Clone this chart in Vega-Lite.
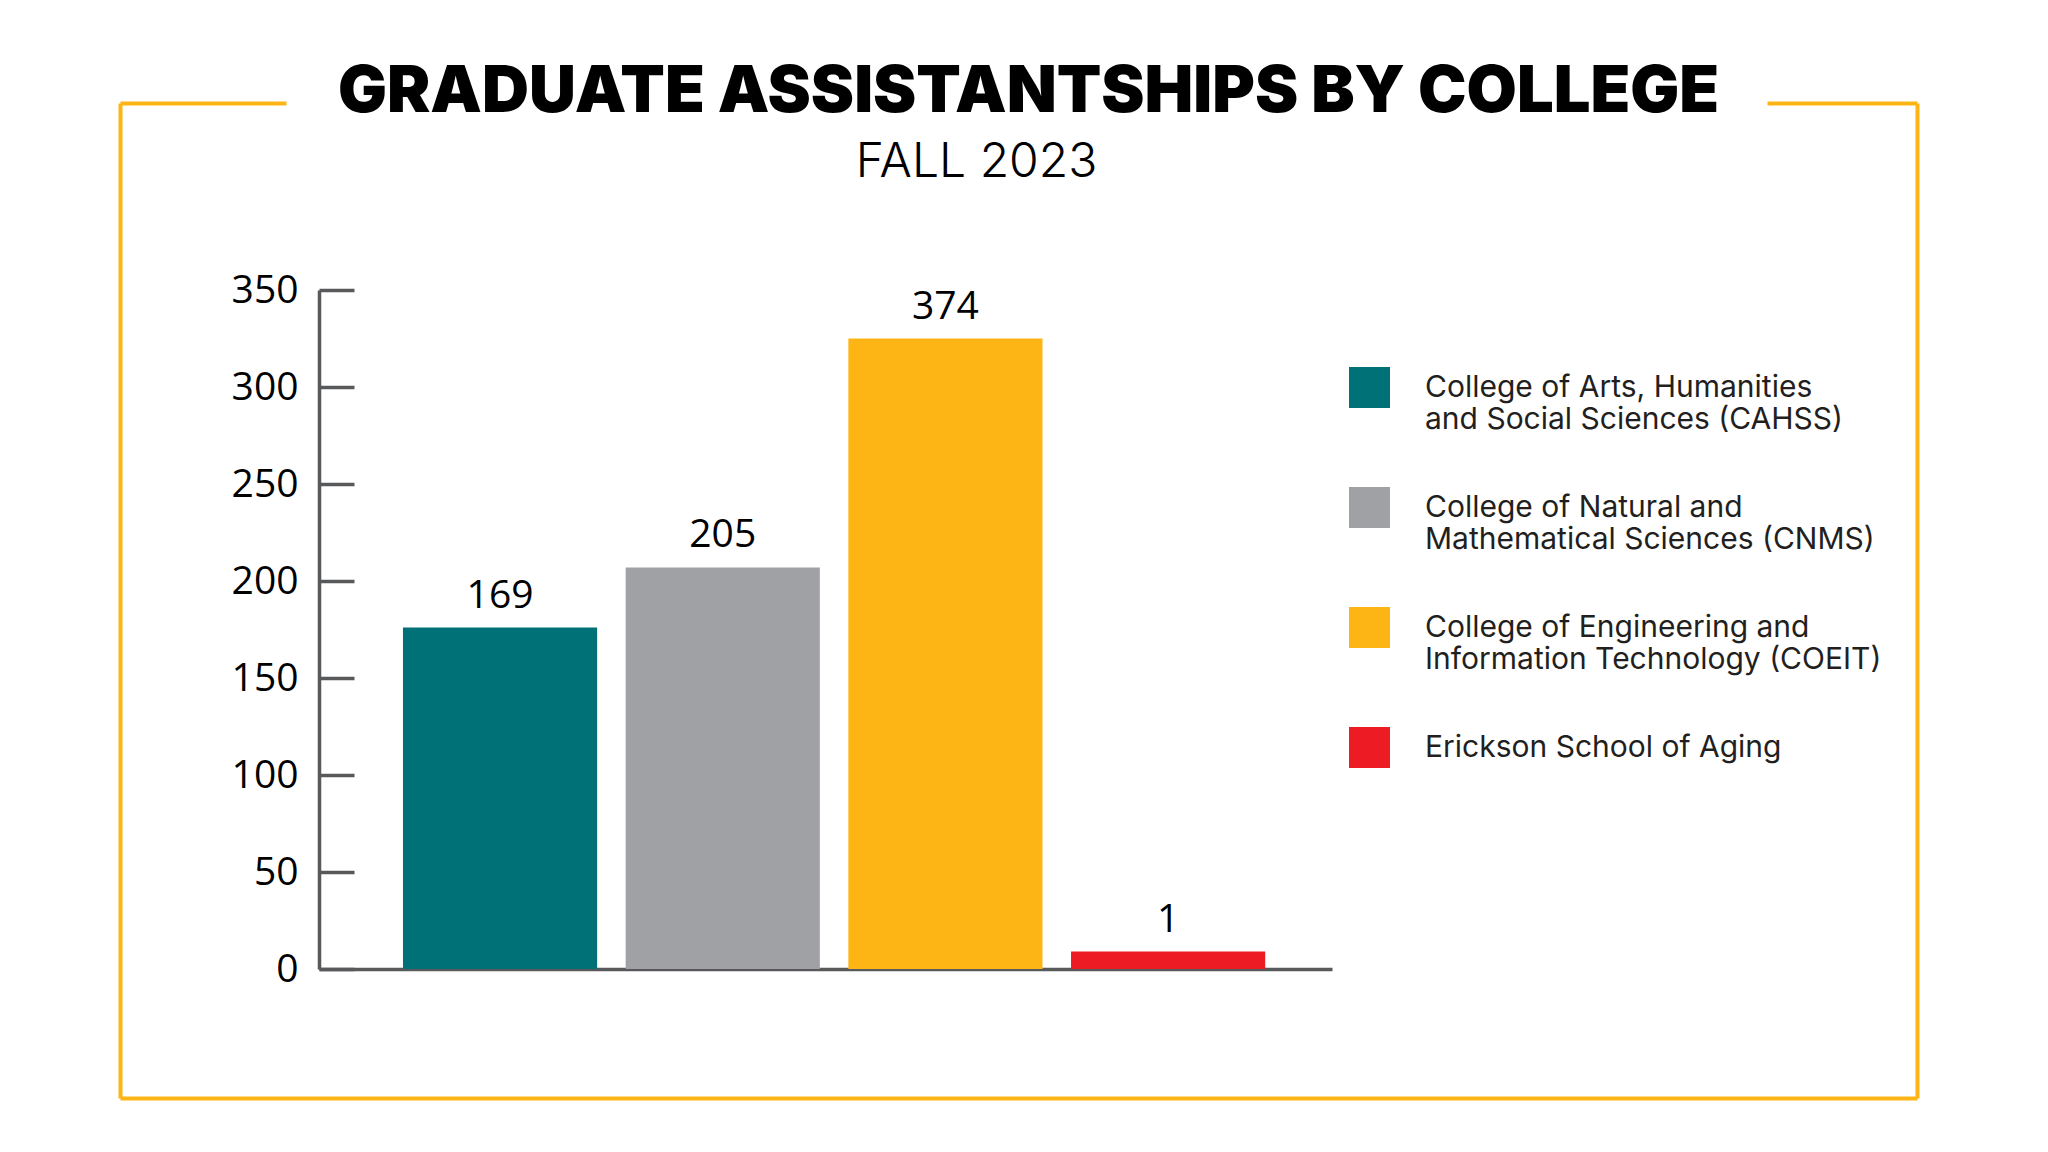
{
  "$schema": "https://vega.github.io/schema/vega-lite/v6.json",
  "width": 1797,
  "height": 995,
  "autosize": {"type": "none"},
  "padding": {"left": 120, "top": 103, "right": 131, "bottom": 54},
  "background": "white",
  "title": {
    "text": "GRADUATE ASSISTANTSHIPS BY COLLEGE",
    "font": "Inter",
    "fontWeight": 900,
    "fontSize": 65,
    "color": "#000000",
    "anchor": "middle",
    "frame": "group",
    "baseline": "alphabetic",
    "offset": -74,
    "dx": 10
  },
  "data": {
    "values": [
      {"college": "College of Arts, Humanities and Social Sciences (CAHSS)", "assistantships": 169, "bar_height": 176},
      {"college": "College of Natural and Mathematical Sciences (CNMS)", "assistantships": 205, "bar_height": 207},
      {"college": "College of Engineering and Information Technology (COEIT)", "assistantships": 374, "bar_height": 325},
      {"college": "Erickson School of Aging", "assistantships": 1, "bar_height": 9}
    ]
  },
  "layer": [
    {
      "encoding": {
        "x": {
          "field": "college",
          "type": "nominal",
          "sort": null,
          "scale": {"range": [199, 1212], "paddingInner": 0.128, "paddingOuter": 0.3385, "align": 0.557},
          "axis": {"orient": "bottom", "offset": -129, "labels": false, "ticks": false, "title": null, "grid": false, "domainColor": "#58595B", "domainWidth": 3.5}
        },
        "y": {
          "field": "bar_height",
          "type": "quantitative",
          "scale": {"domain": [0, 350], "range": [866, 187], "nice": false},
          "axis": {
            "orient": "left",
            "offset": -199,
            "values": [0, 50, 100, 150, 200, 250, 300, 350],
            "title": null,
            "grid": false,
            "domainColor": "#58595B",
            "domainWidth": 3.5,
            "tickColor": "#58595B",
            "tickWidth": 3.5,
            "tickSize": -35,
            "labelFont": "Open Sans",
            "labelFontSize": 39,
            "labelColor": "#000000",
            "labelPadding": 56
          }
        }
      },
      "layer": [
        {
          "mark": {"type": "bar"},
          "encoding": {
            "color": {
              "field": "college",
              "type": "nominal",
              "sort": null,
              "scale": {
                "domain": [
                  "College of Arts, Humanities and Social Sciences (CAHSS)",
                  "College of Natural and Mathematical Sciences (CNMS)",
                  "College of Engineering and Information Technology (COEIT)",
                  "Erickson School of Aging"
                ],
                "range": ["#007176", "#A0A1A4", "#FDB515", "#ED1C24"]
              },
              "legend": {
                "orient": "none",
                "legendX": 1229,
                "legendY": 264,
                "title": null,
                "padding": 0,
                "symbolType": "square",
                "symbolSize": 1681,
                "symbolStrokeWidth": 0,
                "symbolOpacity": 1,
                "labelFont": "Inter",
                "labelFontSize": 30,
                "labelColor": "#231F20",
                "labelLineHeight": 32,
                "labelOffset": 35,
                "labelLimit": 700,
                "rowPadding": 52,
                "gridAlign": "all",
                "labelExpr": "datum.label === 'College of Arts, Humanities and Social Sciences (CAHSS)' ? ['College of Arts, Humanities', 'and Social Sciences (CAHSS)'] : datum.label === 'College of Natural and Mathematical Sciences (CNMS)' ? ['College of Natural and', 'Mathematical Sciences (CNMS)'] : datum.label === 'College of Engineering and Information Technology (COEIT)' ? ['College of Engineering and', 'Information Technology (COEIT)'] : datum.label"
              }
            }
          }
        },
        {
          "mark": {"type": "text", "baseline": "alphabetic", "dy": -20, "font": "Open Sans", "fontSize": 39, "color": "#000000"},
          "encoding": {"text": {"field": "assistantships", "type": "quantitative"}}
        }
      ]
    },
    {
      "mark": {"type": "point", "opacity": 0},
      "encoding": {
        "x": {
          "datum": 0,
          "type": "quantitative",
          "scale": {"domain": [0, 1], "nice": false},
          "axis": {
            "orient": "top",
            "values": [0, 1],
            "grid": true,
            "gridColor": "#FDB515",
            "gridWidth": 4,
            "gridOpacity": 1,
            "domain": false,
            "ticks": false,
            "labels": false,
            "title": "FALL 2023",
            "titleX": 856,
            "titleY": 73,
            "titleAlign": "center",
            "titleBaseline": "alphabetic",
            "titleFont": "Inter",
            "titleFontWeight": 300,
            "titleFontSize": 48,
            "titleColor": "#000000"
          }
        },
        "y": {
          "datum": 0,
          "type": "quantitative",
          "scale": {"domain": [0, 1], "nice": false},
          "axis": {
            "orient": "right",
            "values": [0, 1],
            "grid": true,
            "gridColor": "#FDB515",
            "gridWidth": 4,
            "gridOpacity": 1,
            "gridDash": {"condition": {"test": "datum.value === 1", "value": [150, 1481, 300]}, "value": []},
            "domain": false,
            "ticks": false,
            "labels": false,
            "title": null
          }
        }
      }
    }
  ],
  "resolve": {"scale": {"x": "independent", "y": "independent"}},
  "config": {"view": {"stroke": null}}
}
